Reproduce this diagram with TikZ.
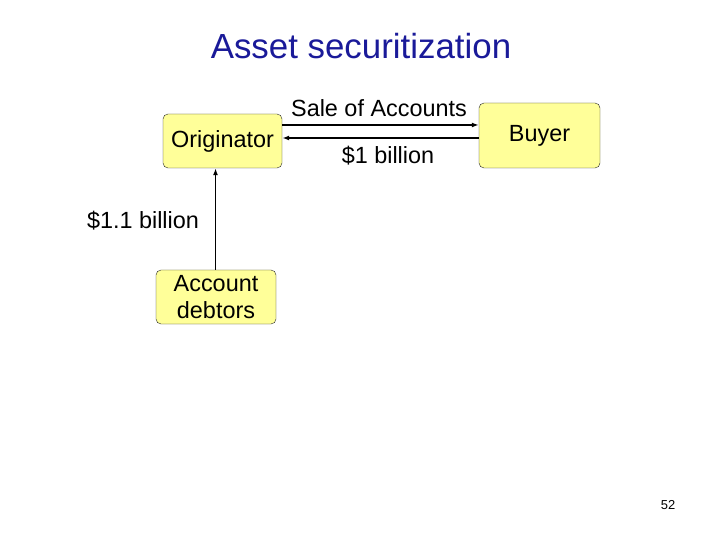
\documentclass[tikz,border=0pt]{standalone}
\usepackage{fontspec}
\setmainfont{Liberation Sans}
\usetikzlibrary{arrows.meta}
\definecolor{titleblue}{HTML}{1A1A99}
\definecolor{boxyellow}{HTML}{FFFF99}
\begin{document}
\begin{tikzpicture}[x=1bp,y=-1bp,box/.style={draw=black!85,fill=boxyellow,rounded corners=5bp,inner sep=0pt,align=center,font=\fontsize{23.5}{27}\selectfont},lbl/.style={inner sep=0pt,font=\fontsize{23.5}{27}\selectfont},arr/.style={-{Latex[length=7bp,width=5bp]},line width=1.4bp}]
    \useasboundingbox (0,0) rectangle (720,540);
    %title
    \node (title) at (361,46)[text=titleblue,font=\fontsize{35}{40}\selectfont]{Asset securitization};
    %parties
    \node (orig) at (222.5,141)[box,minimum width=119bp,minimum height=54bp]{Originator};
    \node (buyer) at (539.5,135.5)[box,minimum width=121bp,minimum height=65bp]{Buyer};
    \node (debt) at (216,297)[box,minimum width=120bp,minimum height=54bp]{Account\\debtors};
    %flows
    \draw [arr] (orig.east |- 0,125) to (buyer.west |- 0,125);
    \draw [arr] (buyer.west |- 0,138) to (orig.east |- 0,138);
    \draw [arr] (debt.north -| 215.5,0) to (orig.south -| 215.5,0);
    %labels
    \node (sale) at (379,108)[lbl]{Sale of Accounts};
    \node (bil) at (388,156)[lbl]{\$1 billion};
    \node (bil2) at (143,221)[lbl]{\$1.1 billion};
    \node (page) at (668,505)[font=\fontsize{13}{15}\selectfont]{52};
\end{tikzpicture}
\end{document}
